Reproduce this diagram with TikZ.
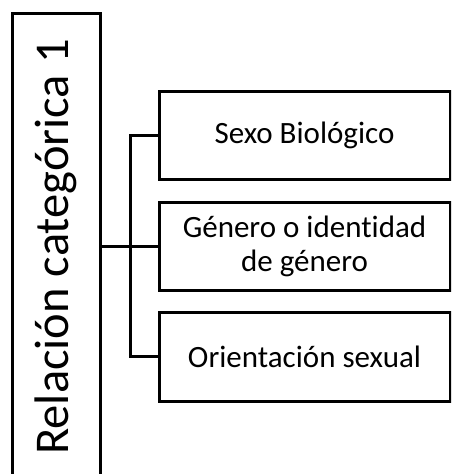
\documentclass[tikz,border=0pt]{standalone}
\usepackage{fontspec}
\setmainfont{Carlito}[Ligatures={NoCommon}]
\begin{document}
\begin{tikzpicture}[x=1pt,y=-1pt,
  box/.style={draw=black, line width=3pt, inner sep=0pt, align=center},
  txt/.style={font=\fontsize{31}{34}\selectfont},
  conn/.style={draw=black, line width=3pt, line join=miter}]
\useasboundingbox (0,0) rectangle (451,474);
\clip (0,0) rectangle (451,474);
\node[box, rotate=90, minimum width=468pt, minimum height=88pt,
  font=\fontsize{48.5}{54}\selectfont] (L) at (56,247) {Relación categórica 1};
\node[box, txt, minimum width=291pt, minimum height=88pt] (B1) at (304.5,135) {Sexo Biológico};
\node[box, txt, minimum width=291pt, minimum height=88pt] (B2) at (304.5,246) {Género o identidad\\de género};
\node[box, txt, minimum width=291pt, minimum height=89pt] (B3) at (304.5,356.5) {Orientación sexual};
\coordinate (spine) at (130,0);
\draw[conn] (L.south |- B2.west) -- (B2.west);
\draw[conn] (B1.west) -- (B1.west -| spine) -- (B3.west -| spine) -- (B3.west);
\end{tikzpicture}
\end{document}
